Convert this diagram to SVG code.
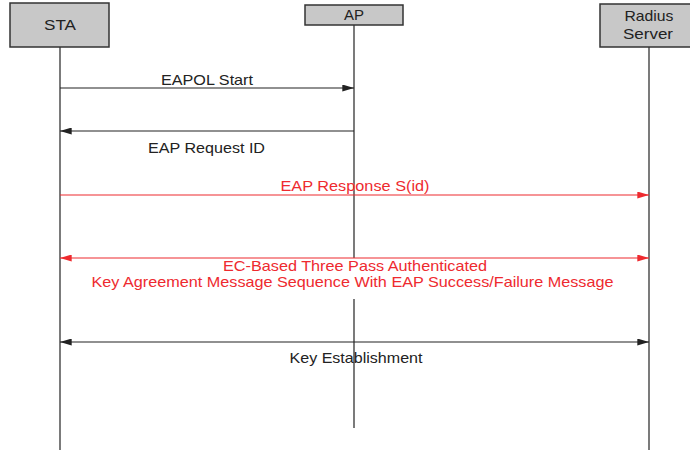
<svg xmlns="http://www.w3.org/2000/svg" width="690" height="450" viewBox="0 0 690 450">
<style>
.box{fill:#c8c8c8;stroke:#333;stroke-width:1.5}
.lt{font-family:"Liberation Sans",Arial,sans-serif;font-size:14.5px;fill:#222;text-anchor:middle}
.ml{font-family:"Liberation Sans",Arial,sans-serif;font-size:14.5px;text-anchor:middle}
.life{stroke:#333;stroke-width:1.3;fill:none}
.k{stroke:#222;stroke-width:1.2;fill:none}
.r{stroke:#ee2a2f;stroke-width:1.2;fill:none}
</style>
<defs>
<marker id="ak" viewBox="0 0 10 6" refX="10" refY="3" markerWidth="12" markerHeight="7" markerUnits="userSpaceOnUse" orient="auto-start-reverse"><path d="M0,0 L10,3 L0,6 z" fill="#222"/></marker>
<marker id="ar" viewBox="0 0 10 6" refX="10" refY="3" markerWidth="12" markerHeight="7" markerUnits="userSpaceOnUse" orient="auto-start-reverse"><path d="M0,0 L10,3 L0,6 z" fill="#ee2a2f"/></marker>
</defs>
<g id="lifelines">
<line class="life" x1="60" y1="47" x2="60" y2="450"/>
<line class="life" x1="354" y1="25" x2="354" y2="258"/>
<line class="life" x1="354" y1="299" x2="354" y2="428"/>
<line class="life" x1="649" y1="47" x2="649" y2="450"/>
</g>
<g id="sta"><rect class="box" x="10" y="3" width="99" height="44"/><text class="lt" x="60" y="30" textLength="32" lengthAdjust="spacingAndGlyphs">STA</text></g>
<g id="ap"><rect class="box" x="305" y="5" width="98" height="20"/><text class="lt" x="354" y="20" textLength="20" lengthAdjust="spacingAndGlyphs">AP</text></g>
<g id="radius"><rect class="box" x="600" y="4" width="92" height="43"/><text class="lt" x="649" y="21" textLength="49" lengthAdjust="spacingAndGlyphs">Radius</text><text class="lt" x="648" y="39" textLength="50" lengthAdjust="spacingAndGlyphs">Server</text></g>
<g id="connectors">
<line class="k" x1="60" y1="88" x2="354" y2="88" marker-end="url(#ak)"/>
<line class="k" x1="354" y1="131" x2="60" y2="131" marker-end="url(#ak)"/>
<line class="r" x1="60" y1="195" x2="649" y2="195" marker-end="url(#ar)"/>
<line class="r" x1="60" y1="258" x2="649" y2="258" marker-start="url(#ar)" marker-end="url(#ar)"/>
<line class="k" x1="60" y1="342" x2="649" y2="342" marker-start="url(#ak)" marker-end="url(#ak)"/>
</g>
<g id="labels">
<text class="ml" x="207" y="85" fill="#222" textLength="92" lengthAdjust="spacingAndGlyphs">EAPOL Start</text>
<text class="ml" x="206.5" y="153" fill="#222" textLength="117" lengthAdjust="spacingAndGlyphs">EAP Request ID</text>
<text class="ml" x="355" y="191" fill="#ee2a2f" textLength="149" lengthAdjust="spacingAndGlyphs">EAP Response S(id)</text>
<text class="ml" x="355" y="271" fill="#ee2a2f" textLength="264" lengthAdjust="spacingAndGlyphs">EC-Based Three Pass Authenticated</text>
<text class="ml" x="352.5" y="287" fill="#ee2a2f" textLength="522" lengthAdjust="spacingAndGlyphs">Key Agreement Message Sequence With EAP Success/Failure Message</text>
<text class="ml" x="356" y="363" fill="#222" textLength="133" lengthAdjust="spacingAndGlyphs">Key Establishment</text>
</g>
</svg>
